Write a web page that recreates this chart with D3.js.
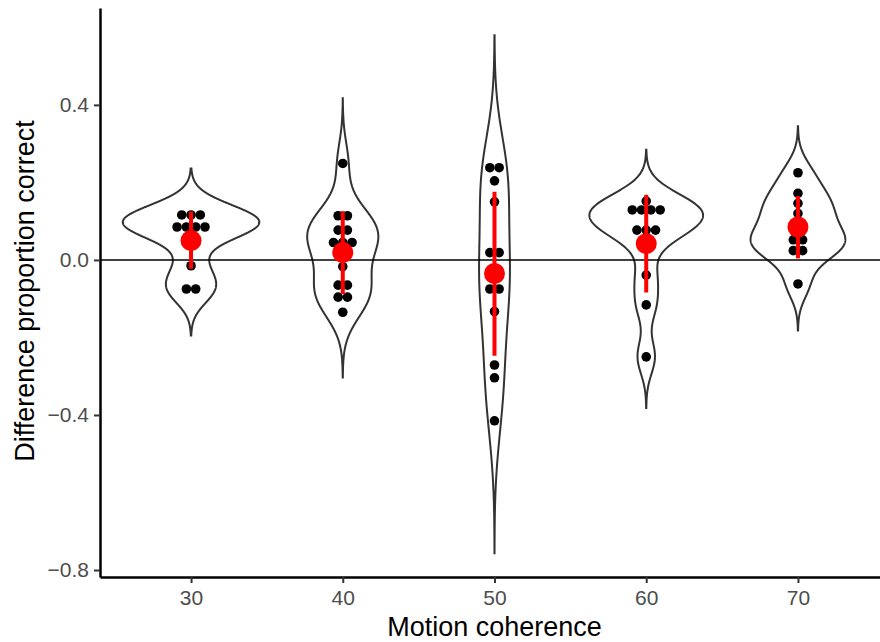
<!DOCTYPE html>
<html>
<head>
<meta charset="utf-8">
<script src="https://cdn.jsdelivr.net/npm/d3@7"></script>
<style>
  body { margin: 0; background: #fff; }
  svg { display: block; font-family: "Liberation Sans", Arial, sans-serif; }
</style>
</head>
<body>
<div id="myChart"></div>
<script>
// Categories and tick values
const coherence = [30, 40, 50, 60, 70];
const yTicks = [-0.8, -0.4, 0, 0.4];

// Individual differences per coherence level
const diff30 = [0.116, 0.116, 0.116, 0.085, 0.085, 0.085, 0.085, -0.015, -0.075, -0.075];
const diff40 = [0.249, 0.114, 0.114, 0.077, 0.077, 0.045, 0.045, 0.045, -0.017, -0.065, -0.065, -0.096, -0.096, -0.135];
const diff50 = [0.238, 0.238, 0.204, 0.150, 0.019, 0.019, -0.075, -0.075, -0.133, -0.271, -0.304, -0.415];
const diff60 = [0.152, 0.129, 0.129, 0.129, 0.129, 0.077, 0.077, 0.077, -0.039, -0.116, -0.250];
const diff70 = [0.225, 0.172, 0.146, 0.120, 0.090, 0.052, 0.052, 0.024, 0.024, -0.062];

// Summary (red) : mean and error bar ends
const meanDiff = [0.050, 0.019, -0.035, 0.042, 0.085];
const errLow = [-0.023, -0.088, -0.247, -0.084, 0.004];
const errHigh = [0.125, 0.126, 0.176, 0.168, 0.165];

// kernel bandwidth of each violin (from the length of its tails)
const bandwidths = [0.040, 0.056, 0.114, 0.044, 0.040];

const scores = [diff30, diff40, diff50, diff60, diff70];

const w = 880;
const h = 642;

const svg = d3.select("#myChart")
  .append("svg")
    .attr("width", w)
    .attr("height", h);

const xScale = d3.scaleLinear()
  .domain([24, 76])
  .range([100, 889]);

const yScale = d3.scaleLinear()
  .domain([-0.818, 0.65])
  .range([577, 8]);

// gaussian kernel density, tails extended by 3 bandwidths (like trim = FALSE)
const gauss = u => Math.exp(-0.5 * u * u) / Math.sqrt(2 * Math.PI);
function density(values, bw) {
  const lo = d3.min(values) - 3 * bw;
  const hi = d3.max(values) + 3 * bw;
  return d3.range(512).map(i => {
    const y = lo + (hi - lo) * i / 511;
    return {y: y, d: d3.mean(values, v => gauss((y - v) / bw)) / bw};
  });
}

const groups = coherence.map((c, i) => ({
  c: c,
  values: scores[i],
  dens: density(scores[i], bandwidths[i])
}));

const dmax = d3.max(groups, g => d3.max(g.dens, p => p.d));
const halfWidth = xScale(24 + 4.5) - xScale(24);
const wScale = d3.scaleLinear().domain([0, dmax]).range([0, halfWidth]);

// Violins
groups.forEach(g => {
  const area = d3.area()
    .y(p => yScale(p.y))
    .x0(p => xScale(g.c) - wScale(p.d))
    .x1(p => xScale(g.c) + wScale(p.d));
  svg.append("path")
    .attr("d", area(g.dens))
    .attr("fill", "none")
    .attr("stroke", "#333333")
    .attr("stroke-width", 2);
});

// zero line
svg.append("line")
  .attr("x1", xScale.range()[0])
  .attr("x2", xScale.range()[1])
  .attr("y1", yScale(0))
  .attr("y2", yScale(0))
  .attr("stroke", "black")
  .attr("stroke-width", 1.6);

// Dots, stacked around the centre
const dotR = 4.8;
const dotStep = 9.3;
groups.forEach(g => {
  d3.groups(g.values, v => v).forEach(([v, arr]) => {
    arr.forEach((_, j) => {
      svg.append("circle")
        .attr("cx", xScale(g.c) + (j - (arr.length - 1) / 2) * dotStep)
        .attr("cy", yScale(v))
        .attr("r", dotR)
        .attr("fill", "black");
    });
  });
});

// Error bars and means
svg.selectAll(".errbar")
  .data(coherence)
  .enter()
  .append("line")
    .attr("class", "errbar")
    .attr("x1", d => xScale(d))
    .attr("x2", d => xScale(d))
    .attr("y1", (d, i) => yScale(errLow[i]))
    .attr("y2", (d, i) => yScale(errHigh[i]))
    .attr("stroke", "red")
    .attr("stroke-width", 4);

svg.selectAll(".meanpt")
  .data(coherence)
  .enter()
  .append("circle")
    .attr("class", "meanpt")
    .attr("cx", d => xScale(d))
    .attr("cy", (d, i) => yScale(meanDiff[i]))
    .attr("r", 10.5)
    .attr("fill", "red");

// Axes
const yAxis = d3.axisLeft(yScale)
  .tickValues(yTicks)
  .tickSize(6)
  .tickSizeOuter(0)
  .tickPadding(5)
  .tickFormat(d3.format(".1f"));

const yG = svg.append("g")
  .attr("transform", "translate(100,0)")
  .call(yAxis);

const xAxis = d3.axisBottom(xScale)
  .tickValues(coherence)
  .tickSize(6)
  .tickSizeOuter(0)
  .tickPadding(7)
  .tickFormat(d3.format("d"));

const xG = svg.append("g")
  .attr("transform", "translate(0,577)")
  .call(xAxis);

[yG, xG].forEach(g => {
  g.select(".domain").attr("stroke", "black").attr("stroke-width", 2.5);
  g.selectAll(".tick line").attr("stroke", "#333333").attr("stroke-width", 2);
  g.selectAll(".tick text")
    .attr("fill", "#4D4D4D")
    .style("font-size", "21px")
    .style("font-family", "'Liberation Sans', Arial, sans-serif");
});

// Axis titles
svg.append("text")
  .attr("x", xScale(50))
  .attr("y", 636)
  .attr("text-anchor", "middle")
  .style("font-size", "27px")
  .text("Motion coherence");

svg.append("text")
  .attr("transform", "translate(34,291) rotate(-90)")
  .attr("text-anchor", "middle")
  .style("font-size", "27px")
  .text("Difference proportion correct");
</script>
</body>
</html>
